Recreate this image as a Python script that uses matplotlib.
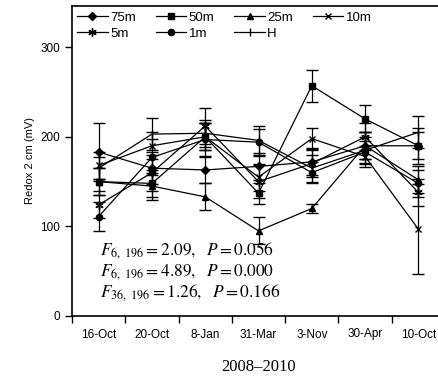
import matplotlib
matplotlib.use("Agg")
import matplotlib.pyplot as plt
from matplotlib.lines import Line2D
import numpy as np

dates = ["16-Oct", "20-Oct", "8-Jan", "31-Mar", "3-Nov", "30-Apr", "10-Oct"]
series_names = ["75m", "50m", "25m", "10m", "5m", "1m", "H"]

redox_75m = [183, 165, 163, 167, 172, 190, 190]
redox_50m = [150, 148, 200, 137, 257, 220, 190]
redox_25m = [150, 145, 133, 95, 120, 190, 152]
redox_10m = [168, 190, 200, 155, 198, 178, 97]
redox_5m = [124, 160, 212, 150, 170, 200, 138]
redox_1m = [111, 177, 197, 194, 160, 183, 148]
redox_H = [165, 203, 204, 196, 165, 185, 205]

err_75m = [32, 18, 15, 15, 15, 15, 20]
err_50m = [15, 15, 15, 12, 18, 15, 15]
err_25m = [15, 15, 15, 15, 5, 15, 15]
err_10m = [15, 15, 15, 15, 12, 12, 50]
err_5m = [15, 20, 20, 18, 15, 15, 15]
err_1m = [16, 20, 18, 15, 12, 12, 15]
err_H = [12, 18, 15, 16, 15, 15, 18]

values = [redox_75m, redox_50m, redox_25m, redox_10m, redox_5m, redox_1m, redox_H]
errors = [err_75m, err_50m, err_25m, err_10m, err_5m, err_1m, err_H]
markers = ["D", "s", "^", "x", (6, 2, 0), "o", "|"]
msizes = [3.8, 4.5, 4.8, 5, 6, 4.5, 6]

plt.rcParams["font.family"] = ["Liberation Sans", "DejaVu Sans"]
plt.rcParams["mathtext.fontset"] = "stix"

fig = plt.figure(figsize=(4.38, 3.81), dpi=100)
ax = fig.add_axes([72 / 438, 65 / 381, 373 / 438, 310 / 381])

x = np.arange(len(dates))
handles = []
for name, vals, err, mk, ms in zip(series_names, values, errors, markers, msizes):
    ax.errorbar(x, vals, yerr=err, color="black", marker=mk, markersize=ms,
                markeredgewidth=1.0, linewidth=0.9, elinewidth=0.9,
                capsize=4, capthick=0.9)
    handles.append(Line2D([], [], color="black", marker=mk, markersize=ms,
                          markeredgewidth=1.0, linewidth=0.9, label=name))

ax.set_xlim(-0.5, len(dates) - 0.5)
ax.set_ylim(0, 346)
ax.set_yticks([0, 100, 200, 300])
ax.set_xticks(x)
ax.set_xticklabels(dates)
ax.set_xticks(np.arange(-0.5, len(dates), 1.0), minor=True)
ax.tick_params(axis="x", which="major", length=0, labelsize=8.5, pad=9)
ax.tick_params(axis="x", which="minor", length=5, width=1, direction="out")
ax.tick_params(axis="y", length=5, width=1, direction="out", labelsize=8.5)
for side in ["left", "bottom", "top"]:
    ax.spines[side].set_linewidth(1.2)
ax.spines["right"].set_visible(False)

ax.set_ylabel("Redox 2 cm (mV)", fontsize=8)
ax.set_xlabel("2008\u20132010", family="Liberation Serif", fontsize=12, labelpad=13)

# legend filled row by row: 4 entries on the first row, 3 on the second
order = [0, 4, 1, 5, 2, 6, 3]
ax.legend([handles[i] for i in order], [series_names[i] for i in order],
          loc="upper left", ncol=4, frameon=False, fontsize=9.5,
          handlelength=2.3, handletextpad=0.2, columnspacing=1.5,
          labelspacing=0.3, borderaxespad=0.0, bbox_to_anchor=(0.0, 1.0))

stats = [
    r"$F_{6,\ 196}=2.09,\ \ P=0.056$",
    r"$F_{6,\ 196}=4.89,\ \ P=0.000$",
    r"$F_{36,\ 196}=1.26,\ \ P=0.166$",
]
for i, s in enumerate(stats):
    ax.text((100 - 72) / 373, (316 - (251 + 21 * i)) / 310, s,
            transform=ax.transAxes, fontsize=12.5, va="center", ha="left")

fig.savefig("out.png", dpi=100)
